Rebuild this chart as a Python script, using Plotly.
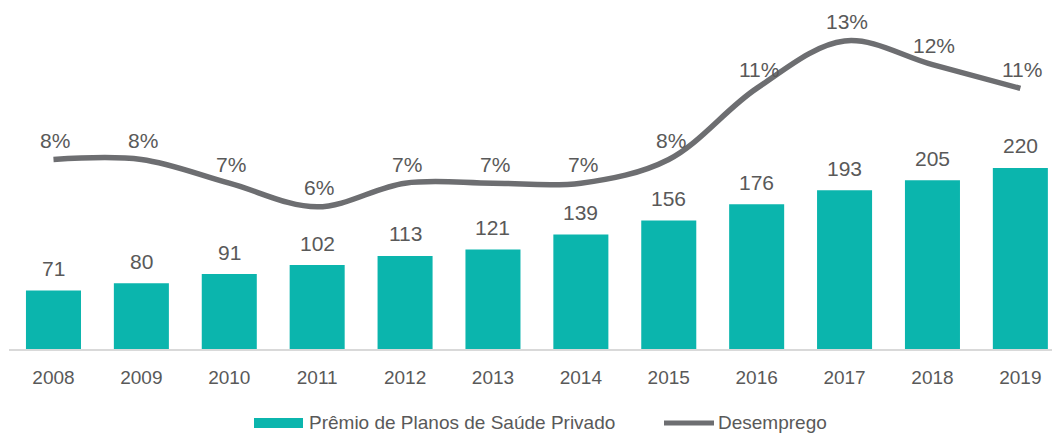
import plotly.graph_objects as go

# Data
anos = ["2008", "2009", "2010", "2011", "2012", "2013", "2014", "2015", "2016", "2017", "2018", "2019"]
premio = [71, 80, 91, 102, 113, 121, 139, 156, 176, 193, 205, 220]
desemprego = [8, 8, 7, 6, 7, 7, 7, 8, 11, 13, 12, 11]

nome_barras = "Prêmio de Planos de Saúde Privado"
nome_linha = "Desemprego"

TEAL = "#0BB5AD"
CINZA_LINHA = "#6D6E71"
TEXTO = "#595959"
FONTE = "Liberation Sans, Arial, sans-serif"

fig = go.Figure()

fig.add_trace(go.Bar(
    x=anos, y=premio, name=nome_barras,
    marker=dict(color=TEAL, line=dict(width=0)),
    showlegend=False, hoverinfo="x+y",
))

fig.add_trace(go.Scatter(
    x=anos, y=desemprego, name=nome_linha, yaxis="y2",
    mode="lines", line=dict(color=CINZA_LINHA, width=5.5, shape="spline", smoothing=1.0),
    showlegend=False,
))

annotations = []
# bar value labels (category index used as x position)
for i, v in enumerate(premio):
    annotations.append(dict(
        x=i, y=v, xref="x", yref="y", text=str(v), showarrow=False,
        yanchor="middle", yshift=22, font=dict(size=21, color=TEXTO, family=FONTE),
    ))
# unemployment labels
for i, v in enumerate(desemprego):
    annotations.append(dict(
        x=i, y=v, xref="x", yref="y2", text=f"{v}%", showarrow=False,
        yanchor="middle", yshift=19, xshift=2, font=dict(size=21, color=TEXTO, family=FONTE),
    ))

# legend drawn below the plot
legenda_y = -0.212
annotations.append(dict(
    x=(307 - 9) / 1043, y=legenda_y, xref="paper", yref="paper", text=nome_barras,
    showarrow=False, xanchor="left", yanchor="middle",
    font=dict(size=19, color=TEXTO, family=FONTE),
))
annotations.append(dict(
    x=(716 - 9) / 1043, y=legenda_y, xref="paper", yref="paper", text=nome_linha,
    showarrow=False, xanchor="left", yanchor="middle",
    font=dict(size=19, color=TEXTO, family=FONTE),
))

shapes = [
    dict(type="rect", xref="paper", yref="paper",
         x0=(254 - 9) / 1043, x1=(303 - 9) / 1043,
         y0=legenda_y - 0.0145, y1=legenda_y + 0.0145,
         fillcolor=TEAL, line=dict(width=0)),
    dict(type="line", xref="paper", yref="paper",
         x0=(664 - 9) / 1043, x1=(714 - 9) / 1043,
         y0=legenda_y, y1=legenda_y,
         line=dict(color=CINZA_LINHA, width=5)),
]

fig.update_layout(
    width=1052, height=433,
    margin=dict(l=9, r=0, t=0, b=84),
    paper_bgcolor="white", plot_bgcolor="white",
    bargap=0.374,
    showlegend=False,
    font=dict(family=FONTE, color=TEXTO),
    xaxis=dict(
        type="category", range=[-0.506, 11.36],
        showline=True, linecolor="#D9D9D9", linewidth=2,
        ticks="", showgrid=False, zeroline=False,
        tickfont=dict(size=19, color=TEXTO, family=FONTE),
        ticklabelstandoff=10,
    ),
    yaxis=dict(range=[0, 424], visible=False, showgrid=False, zeroline=False),
    yaxis2=dict(range=[0, 14.73], overlaying="y", visible=False, showgrid=False, zeroline=False),
    annotations=annotations,
    shapes=shapes,
)

fig.write_html("out.html")
